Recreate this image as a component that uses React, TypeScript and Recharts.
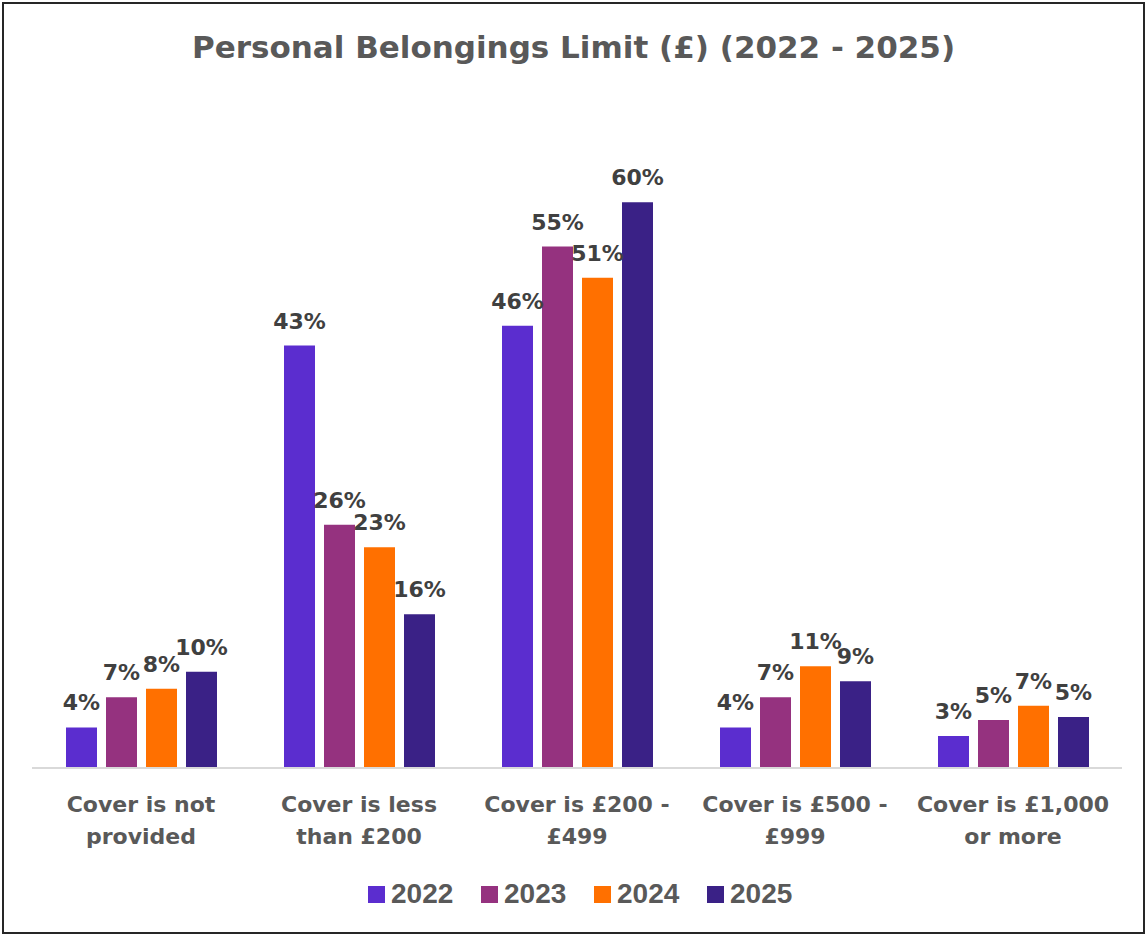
import { Bar, BarChart, LabelList, XAxis, YAxis } from "recharts";

const categoryLines = [
  ["Cover is not", "provided"],
  ["Cover is less", "than £200"],
  ["Cover is £200 -", "£499"],
  ["Cover is £500 -", "£999"],
  ["Cover is £1,000", "or more"],
];
const categories = categoryLines.map((l) => l.join(" "));

const years = ["2022", "2023", "2024", "2025"];
const colors = ["#5B2DCF", "#95327F", "#FF7000", "#3A2186"];

// bar heights as drawn (%), and the printed labels
const v2022 = [4.3, 44.8, 46.9, 4.3, 3.4];
const v2023 = [7.5, 25.8, 55.3, 7.5, 5.1];
const v2024 = [8.4, 23.4, 52.0, 10.8, 6.6];
const v2025 = [10.2, 16.3, 60.0, 9.2, 5.4];

const l2022 = ["4%", "43%", "46%", "4%", "3%"];
const l2023 = ["7%", "26%", "55%", "7%", "5%"];
const l2024 = ["8%", "23%", "51%", "11%", "7%"];
const l2025 = ["10%", "16%", "60%", "9%", "5%"];

const values = [v2022, v2023, v2024, v2025];
const labels = [l2022, l2023, l2024, l2025];

const data = categories.map((name, i) => {
  const row: Record<string, string | number> = { name };
  years.forEach((y, s) => {
    row["v" + y] = values[s][i];
    row["l" + y] = labels[s][i];
  });
  return row;
});

const FONT = "'DejaVu Sans', sans-serif";
const GREY = "#595959";

function CategoryTick(props: any) {
  const { x, y, payload } = props;
  const lines = categoryLines[categories.indexOf(payload.value)] || [payload.value];
  return (
    <text
      x={x}
      y={y}
      textAnchor="middle"
      fill={GREY}
      fontFamily={FONT}
      fontWeight="bold"
      fontSize={22}
    >
      {lines.map((line, i) => (
        <tspan key={i} x={x} dy={i === 0 ? 36 : 32}>
          {line}
        </tspan>
      ))}
    </text>
  );
}

export default function App() {
  return (
    <div style={{ position: "relative", width: 1147, height: 936, background: "#fff" }}>
      <style>{"body{margin:0}"}</style>
      <div
        style={{
          position: "absolute",
          left: 2,
          top: 2,
          width: 1143,
          height: 932,
          boxSizing: "border-box",
          border: "2px solid #262626",
        }}
      />
      <div
        style={{
          position: "absolute",
          top: 29,
          left: 0,
          width: 1147,
          textAlign: "center",
          fontFamily: FONT,
          fontWeight: "bold",
          fontSize: 31,
          color: GREY,
        }}
      >
        Personal Belongings Limit (£) (2022 - 2025)
      </div>
      <div style={{ position: "absolute", left: 0, top: 0 }}>
        <BarChart
          width={1147}
          height={936}
          data={data}
          margin={{ top: 108, right: 25, bottom: 68, left: 32 }}
          barSize={31}
          barGap={9}
        >
          <XAxis
            dataKey="name"
            height={100}
            interval={0}
            tickLine={false}
            axisLine={{ stroke: "#D9D9D9", strokeWidth: 2 }}
            tick={<CategoryTick />}
          />
          <YAxis hide domain={[0, 70]} />
          {years.map((y, s) => (
            <Bar key={y} dataKey={"v" + y} fill={colors[s]} isAnimationActive={false}>
              <LabelList
                dataKey={"l" + y}
                position="top"
                offset={17}
                fill="#404040"
                fontFamily={FONT}
                fontWeight="bold"
                fontSize={22}
              />
            </Bar>
          ))}
        </BarChart>
      </div>
      <div
        style={{
          position: "absolute",
          top: 878,
          left: 368,
          display: "flex",
          fontFamily: "'Liberation Sans', Arial, sans-serif",
          fontWeight: "bold",
          fontSize: 28,
          color: GREY,
          lineHeight: "32px",
        }}
      >
        {years.map((y, s) => (
          <div key={y} style={{ display: "flex", alignItems: "center", width: 113 }}>
            <span
              style={{
                display: "inline-block",
                width: 17,
                height: 17,
                background: colors[s],
                marginRight: 6,
              }}
            />
            {y}
          </div>
        ))}
      </div>
    </div>
  );
}
